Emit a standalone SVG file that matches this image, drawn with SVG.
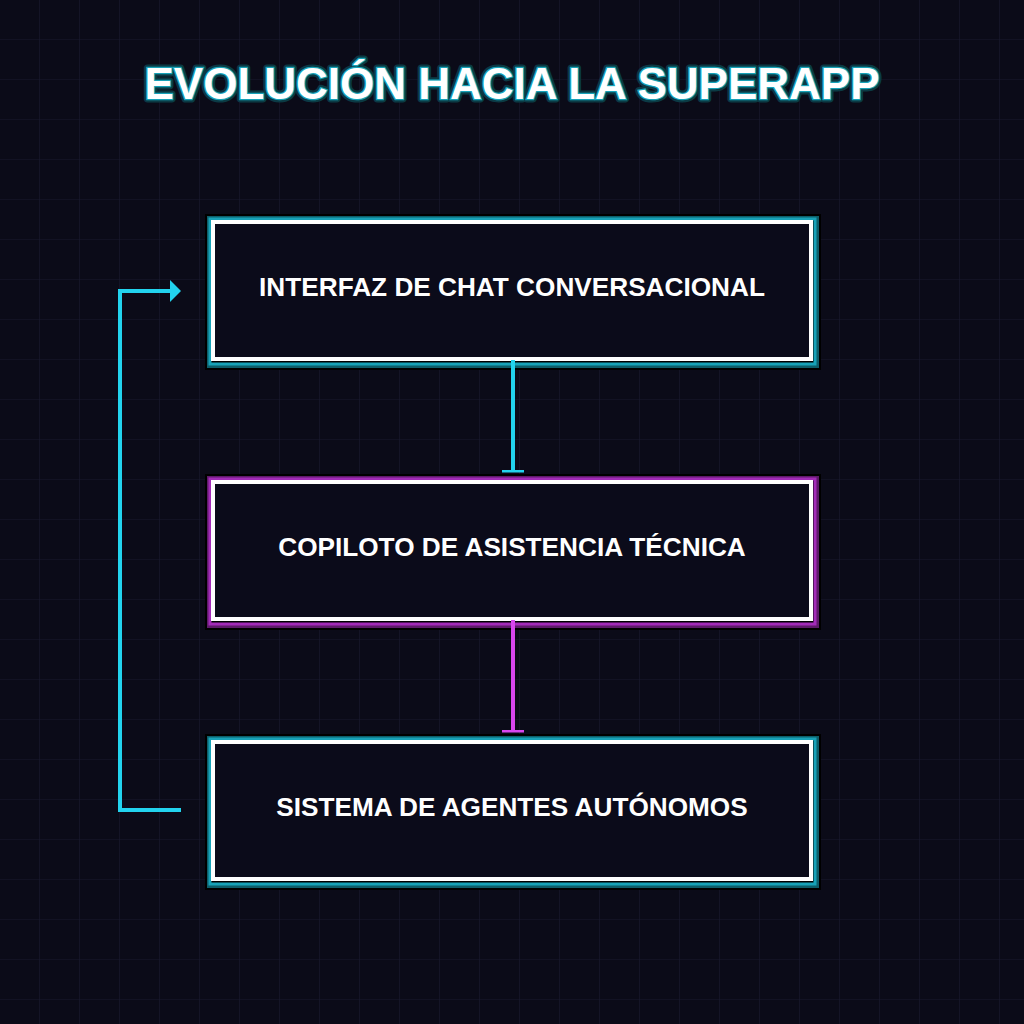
<svg xmlns="http://www.w3.org/2000/svg" width="1024" height="1024" viewBox="0 0 1024 1024">
  <defs>
    <pattern id="grid" width="40" height="40" patternUnits="userSpaceOnUse">
      <path d="M40 0V40M0 40H40" fill="none" stroke="#191a2e" stroke-width="1.2"/>
    </pattern>
    <marker id="teeC" markerWidth="4" markerHeight="22" refX="1.5" refY="11" orient="auto" markerUnits="userSpaceOnUse" viewBox="0 0 4 22">
      <rect x="0" y="0" width="3" height="22" fill="#22d3ee"/>
    </marker>
    <marker id="teeM" markerWidth="4" markerHeight="22" refX="1.5" refY="11" orient="auto" markerUnits="userSpaceOnUse" viewBox="0 0 4 22">
      <rect x="0" y="0" width="3" height="22" fill="#d946ef"/>
    </marker>
    <marker id="arrowC" markerWidth="12" markerHeight="22" refX="1" refY="11" orient="auto" markerUnits="userSpaceOnUse" viewBox="0 0 12 22">
      <path d="M0 0L11 11L0 22Z" fill="#22d3ee"/>
    </marker>
  </defs>
  <style>
    .title{font-family:"Liberation Sans",Arial,sans-serif;font-weight:bold;font-size:44px;fill:#ffffff;stroke:#17a2b8;stroke-width:2.5px;paint-order:stroke;text-anchor:middle}
    .titleglow{font-family:"Liberation Sans",Arial,sans-serif;font-weight:bold;font-size:44px;fill:none;stroke:#0b3a44;stroke-width:7px;stroke-linejoin:round;text-anchor:middle}
    .label{font-family:"Liberation Sans",Arial,sans-serif;font-weight:bold;font-size:26.2px;fill:#ffffff;text-anchor:middle}
    .shadow{fill:#000000}
    .box{fill:#0b0b1a;stroke:#ffffff;stroke-width:4}
    .glowC1{fill:none;stroke:#0d5e6a;stroke-width:4}
    .glowC2{fill:none;stroke:#17a2b8;stroke-width:3}
    .glowM1{fill:none;stroke:#5e1a6a;stroke-width:4}
    .glowM2{fill:none;stroke:#a32bb8;stroke-width:3}
  </style>
  <rect width="1024" height="1024" fill="#0b0b18"/>
  <rect width="1024" height="1024" fill="url(#grid)"/>

  <g id="title">
    <text class="titleglow" x="512" y="99">EVOLUCIÓN HACIA LA SUPERAPP</text>
    <text class="title" x="512" y="99">EVOLUCIÓN HACIA LA SUPERAPP</text>
  </g>

  <g id="node1">
    <rect class="shadow" x="205" y="214" width="616" height="156"/>
    <rect class="glowC1" x="209" y="218" width="608" height="148"/>
    <rect class="glowC2" x="210" y="219" width="605" height="145"/>
    <rect class="box" x="213" y="222" width="598" height="137"/>
    <text class="label" x="512" y="296">INTERFAZ DE CHAT CONVERSACIONAL</text>
  </g>

  <g id="node2">
    <rect class="shadow" x="205" y="474" width="616" height="156"/>
    <rect class="glowM1" x="209" y="478" width="608" height="148"/>
    <rect class="glowM2" x="210" y="479" width="605" height="145"/>
    <rect class="box" x="213" y="482" width="598" height="137"/>
    <text class="label" x="512" y="556">COPILOTO DE ASISTENCIA TÉCNICA</text>
  </g>

  <g id="node3">
    <rect class="shadow" x="205" y="734" width="616" height="156"/>
    <rect class="glowC1" x="209" y="738" width="608" height="148"/>
    <rect class="glowC2" x="210" y="739" width="605" height="145"/>
    <rect class="box" x="213" y="742" width="598" height="137"/>
    <text class="label" x="512" y="816">SISTEMA DE AGENTES AUTÓNOMOS</text>
  </g>

  <g id="connectors">
    <line x1="513" y1="360" x2="513" y2="471" stroke="#22d3ee" stroke-width="4" marker-end="url(#teeC)"/>
    <line x1="513" y1="620" x2="513" y2="731" stroke="#d946ef" stroke-width="4" marker-end="url(#teeM)"/>
    <polyline points="181,810 120,810 120,291 171,291" fill="none" stroke="#22d3ee" stroke-width="4" marker-end="url(#arrowC)"/>
  </g>
</svg>
